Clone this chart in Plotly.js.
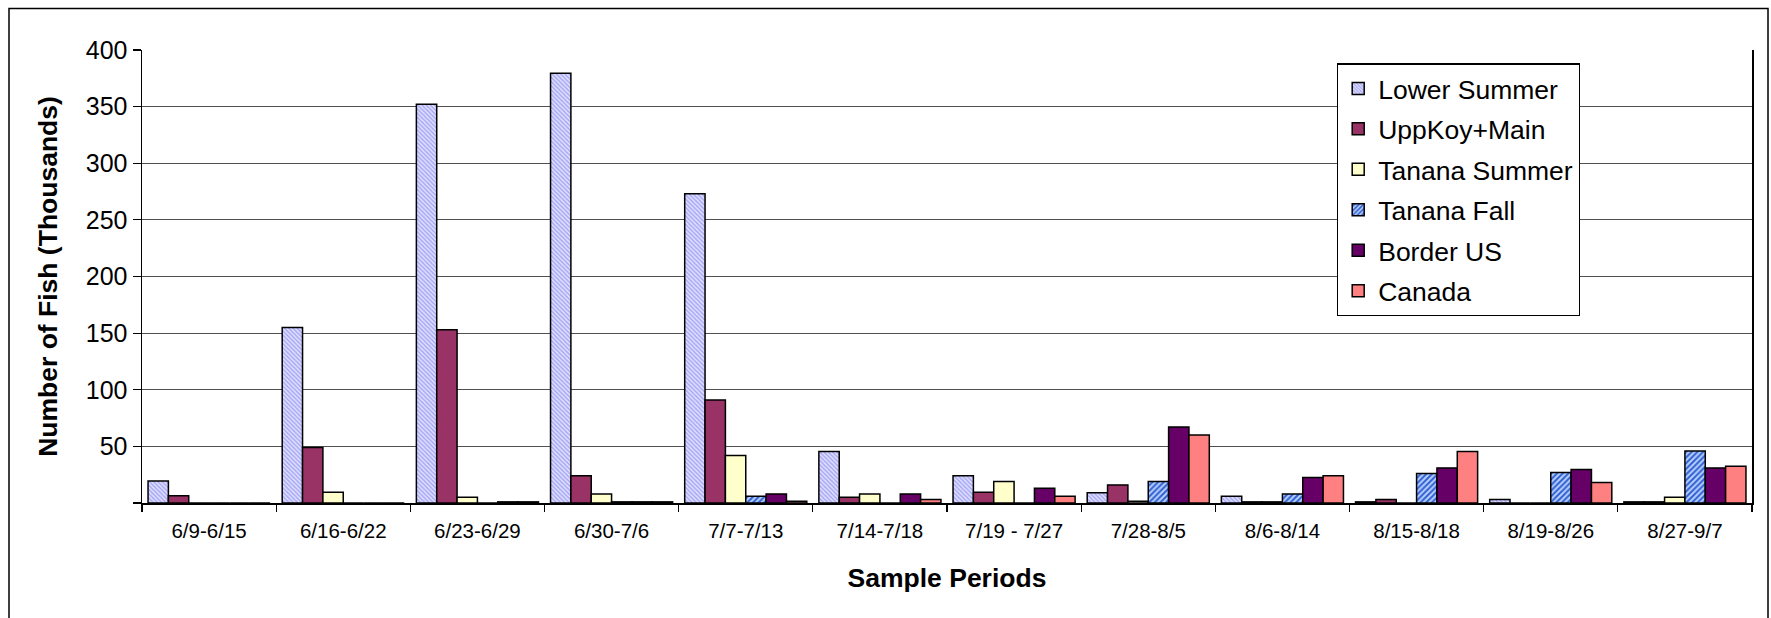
<!DOCTYPE html>
<html>
<head>
<meta charset="utf-8">
<script src="https://cdn.plot.ly/plotly-3.0.1.min.js"></script>
<style>
  html, body { margin: 0; padding: 0; background: #ffffff; }
  #chart { width: 1771px; height: 618px; }
</style>
</head>
<body>
<div id="chart"></div>
<script>
const categories = ['6/9-6/15','6/16-6/22','6/23-6/29','6/30-7/6','7/7-7/13','7/14-7/18','7/19 - 7/27','7/28-8/5','8/6-8/14','8/15-8/18','8/19-8/26','8/27-9/7'];
const lowerSummer  = [19.5, 155, 352, 379.5, 273, 45.5, 24, 9, 6, 1, 3, 1];
const uppKoyMain   = [6.5, 49, 153, 24, 91, 5, 9.5, 16, 1, 3, 0, 1];
const tananaSummer = [0, 9.5, 5, 8, 42, 8, 19, 1.5, 1, 0, 0, 5];
const tananaFall   = [0, 0, 0, 1, 6, 0, 0, 19, 8, 26, 27, 46];
const borderUS     = [0, 0, 1, 1, 8, 8, 13, 67, 22.5, 31, 29.5, 31];
const canada       = [0, 0, 1, 1, 1.5, 3, 6, 60, 24, 45.5, 18, 32.5];
const yTickVals = [0, 50, 100, 150, 200, 250, 300, 350, 400];
const yTickText = ['', '50', '100', '150', '200', '250', '300', '350', '400'];

const FONT = 'Liberation Sans, Arial, sans-serif';
const outline = {color: '#000000', width: 1.5};

function bar(name, y, marker, group) {
  return {
    type: 'bar', name: name, x: categories, y: y,
    legendgroup: group,
    marker: Object.assign({line: outline}, marker),
    hoverinfo: 'x+y+name'
  };
}

const traces = [
  bar('Lower Summer', lowerSummer, {color: '#d4d4ff', pattern: {shape: '\\', fgcolor: '#a8a8f4', bgcolor: '#e2e2ff', size: 3, solidity: 0.5}}, 'a'),
  bar('UppKoy+Main', uppKoyMain, {color: '#993366'}, 'b'),
  bar('Tanana Summer', tananaSummer, {color: '#ffffcc'}, 'c'),
  bar('Tanana Fall', tananaFall, {color: '#8aa8ee', pattern: {shape: '/', fgcolor: '#3060d0', bgcolor: '#b8d0ff', size: 4, solidity: 0.5}}, 'd'),
  bar('Border US', borderUS, {color: '#660066'}, 'e'),
  bar('Canada', canada, {color: '#ff8080'}, 'f')
];

const L = 142, R = 1752, T = 49.5, B = 503.5, W = 1771, H = 618;
const pw = R - L, ph = B - T;
const px = v => (v - L) / pw;
const py = v => (B - v) / ph;

const layout = {
  width: W, height: H,
  margin: {l: L, r: W - R, t: T, b: H - B, pad: 0},
  paper_bgcolor: '#ffffff', plot_bgcolor: '#ffffff',
  font: {family: FONT, color: '#000000'},
  barmode: 'group', bargap: 0.09, bargroupgap: 0,
  showlegend: true,
  legend: {
    x: px(1337), y: py(63), xanchor: 'left', yanchor: 'top',
    bgcolor: '#ffffff', bordercolor: '#000000', borderwidth: 1.2,
    font: {family: FONT, size: 26.5, color: '#000000'},
    traceorder: 'grouped', tracegroupgap: 3
  },
  xaxis: {
    type: 'category', showline: true, linecolor: '#000000', linewidth: 1.5,
    ticks: 'outside', tickson: 'boundaries', ticklen: 7, tickcolor: '#000000', tickwidth: 1.2,
    ticklabelstandoff: 9,
    tickfont: {family: FONT, size: 20.5, color: '#000000'},
    showgrid: false, zeroline: false, fixedrange: true, automargin: false,
    title: {text: 'Sample Periods', font: {family: FONT, size: 26.5, color: '#000000', weight: 'bold'}, standoff: 27}
  },
  yaxis: {
    range: [0, 400], tickvals: yTickVals, ticktext: yTickText,
    showline: true, mirror: true, linecolor: '#000000', linewidth: 1.5,
    ticks: 'outside', ticklen: 8, tickcolor: '#000000', tickwidth: 1.2,
    tickfont: {family: FONT, size: 25, color: '#000000'},
    showgrid: true, gridcolor: '#505050', gridwidth: 1.2, zeroline: false,
    fixedrange: true, automargin: false,
    title: {text: 'Number of Fish (Thousands)', font: {family: FONT, size: 26.5, color: '#000000', weight: 'bold'}, standoff: 20}
  },
  shapes: [{
    type: 'rect', xref: 'paper', yref: 'paper',
    x0: px(9), x1: px(1768), y0: py(640), y1: py(8),
    line: {color: '#000000', width: 1.5}, layer: 'below'
  }]
};

Plotly.newPlot('chart', traces, layout, {staticPlot: true, displayModeBar: false});
</script>
</body>
</html>
